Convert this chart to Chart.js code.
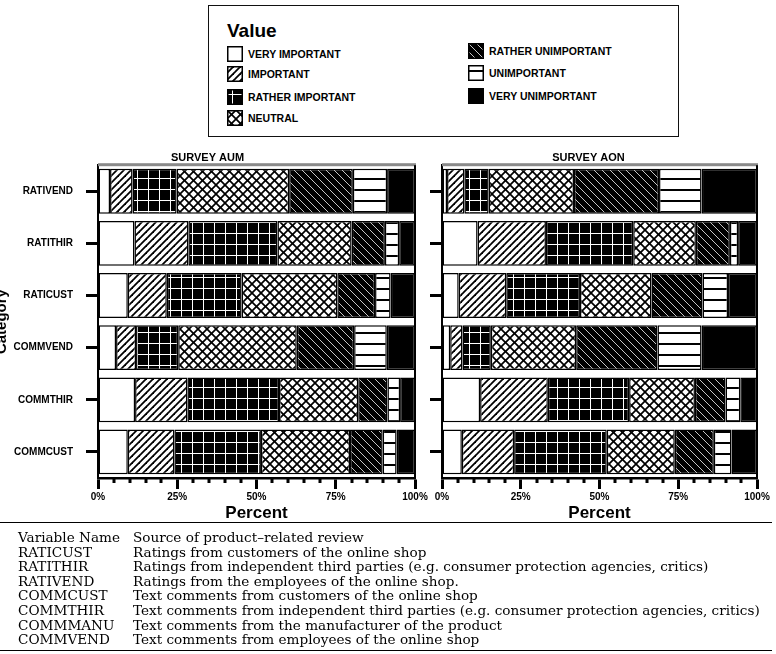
<!DOCTYPE html>
<html>
<head>
<meta charset="utf-8">
<script src="https://cdn.jsdelivr.net/npm/chart.js@4.4.1/dist/chart.umd.min.js"></script>
<style>
  body { margin: 0; background: #fff; width: 776px; height: 654px; position: relative; overflow: hidden; font-family: "Liberation Sans", Arial, sans-serif; }
  canvas { position: absolute; }
  #legend { position: absolute; left: 208px; top: 5px; width: 469px; height: 130px; border: 1.5px solid #111; }
  #legend .title { position: absolute; left: 18px; top: 14px; font-size: 19px; font-weight: bold; line-height: 22px; }
  #legend .item { position: absolute; font-size: 10.5px; font-weight: bold; line-height: 16px; white-space: nowrap; }
  #legend .item canvas { position: absolute; left: 0; top: 0; }
  #legend .item span { position: absolute; left: 21px; top: 0; }
  #table { position: absolute; left: 0; top: 522px; width: 772px; border-top: 1.5px solid #000; border-bottom: 1.5px solid #000; padding: 7px 0 3px; font-family: "DejaVu Serif", serif; font-size: 13.6px; }
  #table .row { position: relative; height: 14.6px; line-height: 14.6px; white-space: nowrap; }
  #table .c1 { position: absolute; left: 18px; }
  #table .c2 { position: absolute; left: 133px; }
</style>
</head>
<body>
<div id="legend"><div class="title">Value</div></div>
<canvas id="aum" width="430" height="384" style="left:0;top:140px"></canvas>
<canvas id="aon" width="356" height="384" style="left:420px;top:140px"></canvas>
<div id="table"></div>
<script>
const categories = ['RATIVEND', 'RATITHIR', 'RATICUST', 'COMMVEND', 'COMMTHIR', 'COMMCUST'];
const levels = ['VERY IMPORTANT', 'IMPORTANT', 'RATHER IMPORTANT', 'NEUTRAL', 'RATHER UNIMPORTANT', 'UNIMPORTANT', 'VERY UNIMPORTANT'];
const xTickValues = [0, 25, 50, 75, 100];

// survey AUM, percent of answers, same order as categories
const aumVeryImportant = [3.8, 11.5, 9.4, 5.7, 11.7, 9.4];
const aumImportant = [7.1, 17.0, 12.3, 6.3, 16.5, 14.7];
const aumRatherImportant = [13.9, 28.1, 23.6, 13.3, 28.9, 27.3];
const aumNeutral = [35.5, 23.4, 30.2, 37.4, 25.0, 28.1];
const aumRatherUnimportant = [20.1, 10.5, 11.9, 18.1, 9.2, 10.3];
const aumUnimportant = [10.8, 4.5, 4.9, 10.3, 4.0, 4.4];
const aumVeryUnimportant = [8.8, 5.0, 7.7, 8.9, 4.7, 5.8];

// survey AON
const aonVeryImportant = [1.6, 11.3, 5.3, 2.6, 12.1, 6.3];
const aonImportant = [5.5, 21.7, 15.1, 3.9, 21.5, 16.6];
const aonRatherImportant = [7.7, 27.7, 23.4, 9.0, 25.8, 29.4];
const aonNeutral = [27.1, 19.9, 22.7, 27.1, 20.9, 21.6];
const aonRatherUnimportant = [27.0, 10.8, 16.2, 25.8, 9.7, 12.4];
const aonUnimportant = [13.5, 2.6, 8.1, 14.0, 4.7, 5.6];
const aonVeryUnimportant = [17.6, 6.0, 9.2, 17.6, 5.3, 8.1];

const variableNames = ['Variable Name', 'RATICUST', 'RATITHIR', 'RATIVEND', 'COMMCUST', 'COMMTHIR', 'COMMMANU', 'COMMVEND'];
const variableSources = [
  'Source of product\u2013related review',
  'Ratings from customers of the online shop',
  'Ratings from independent third parties (e.g. consumer protection agencies, critics)',
  'Ratings from the employees of the online shop.',
  'Text comments from customers of the online shop',
  'Text comments from independent third parties (e.g. consumer protection agencies, critics)',
  'Text comments from the manufacturer of the product',
  'Text comments from employees of the online shop'
];

const aumSeries = [aumVeryImportant, aumImportant, aumRatherImportant, aumNeutral, aumRatherUnimportant, aumUnimportant, aumVeryUnimportant];
const aonSeries = [aonVeryImportant, aonImportant, aonRatherImportant, aonNeutral, aonRatherUnimportant, aonUnimportant, aonVeryUnimportant];

const FONT = '"Liberation Sans", Arial, sans-serif';

// fill patterns
function tile(w, h, bg, draw) {
  const c = document.createElement('canvas');
  c.width = w; c.height = h;
  const g = c.getContext('2d');
  g.fillStyle = bg;
  g.fillRect(0, 0, w, h);
  draw(g);
  return g.createPattern(c, 'repeat');
}
function line(g, x1, y1, x2, y2) {
  g.beginPath(); g.moveTo(x1, y1); g.lineTo(x2, y2); g.stroke();
}

const fills = [
  '#ffffff',
  tile(7, 7, '#fff', g => {
    g.strokeStyle = '#000'; g.lineWidth = 1.8;
    line(g, -1, 8, 8, -1); line(g, -1, 1, 1, -1); line(g, 6, 8, 8, 6);
  }),
  tile(11, 11, '#000', g => {
    g.fillStyle = '#fff';
    g.fillRect(5, 0, 1, 11); g.fillRect(0, 5, 11, 1);
  }),
  tile(9, 9, '#fff', g => {
    g.strokeStyle = '#000'; g.lineWidth = 1.7;
    line(g, -1, -1, 10, 10); line(g, 8, -1, 10, 1); line(g, -1, 8, 1, 10);
    line(g, -1, 10, 10, -1); line(g, -1, 1, 1, -1); line(g, 8, 10, 10, 8);
  }),
  tile(8, 8, '#000', g => {
    g.strokeStyle = '#ddd'; g.lineWidth = 0.9;
    line(g, -1, -1, 9, 9); line(g, 7, -1, 9, 1); line(g, -1, 7, 1, 9);
  }),
  tile(4, 11, '#fff', g => {
    g.fillStyle = '#000'; g.fillRect(0, 5, 4, 2);
  }),
  '#000000'
];

// legend
const legendPos = [[18, 40], [18, 60], [18, 83], [18, 104], [259, 37], [259, 59], [259, 82]];
const legendEl = document.getElementById('legend');
levels.forEach((name, i) => {
  const item = document.createElement('div');
  item.className = 'item';
  item.style.left = legendPos[i][0] + 'px';
  item.style.top = legendPos[i][1] + 'px';
  const sw = document.createElement('canvas');
  sw.width = 16; sw.height = 16;
  const g = sw.getContext('2d');
  g.fillStyle = fills[i]; g.fillRect(0, 0, 16, 16);
  g.strokeStyle = '#000'; g.lineWidth = 1.5; g.strokeRect(0.75, 0.75, 14.5, 14.5);
  const t = document.createElement('span');
  t.textContent = name;
  item.appendChild(sw); item.appendChild(t);
  legendEl.appendChild(item);
});

// table
const tableEl = document.getElementById('table');
variableNames.forEach((n, i) => {
  const r = document.createElement('div');
  r.className = 'row';
  r.innerHTML = '<span class="c1"></span><span class="c2"></span>';
  r.children[0].textContent = n;
  r.children[1].textContent = variableSources[i];
  tableEl.appendChild(r);
});

// frame edges + minor ticks on the percent axis
const framePlugin = {
  id: 'frame',
  afterDraw(chart) {
    const { ctx, chartArea: a } = chart;
    const x = chart.scales.x;
    ctx.save();
    ctx.fillStyle = '#8a8a8a';
    ctx.fillRect(a.left, a.top - 2, a.right - a.left + 1, 3);
    ctx.fillStyle = '#000';
    ctx.fillRect(a.right - 1, a.top, 2, a.bottom - a.top);
    for (let v = 5; v < 100; v += 5) {
      if (v % 25 === 0) continue;
      const px = x.getPixelForValue(v);
      ctx.fillRect(Math.round(px) - 1.5, a.bottom, 3, 5);
    }
    ctx.restore();
  }
};

function makeChart(id, title, series, first) {
  const datasets = levels.map((name, i) => ({
    label: name,
    data: series[i],
    backgroundColor: fills[i],
    borderColor: '#000',
    borderWidth: 1.5,
    borderSkipped: false,
    barPercentage: 0.86,
    categoryPercentage: 1
  }));

  return new Chart(document.getElementById(id), {
    type: 'bar',
    data: { labels: categories, datasets },
    plugins: [framePlugin],
    options: {
      indexAxis: 'y',
      responsive: false,
      animation: false,
      layout: { padding: { left: 0, right: first ? 15 : 19, top: 0, bottom: 0 } },
      plugins: {
        legend: { display: false },
        tooltip: { enabled: false },
        title: {
          display: true,
          text: title,
          color: '#000',
          font: { family: FONT, size: 11, weight: 'bold' },
          padding: { top: 11, bottom: 1 }
        }
      },
      scales: {
        x: {
          stacked: true,
          min: 0,
          max: 100,
          afterBuildTicks(scale) { scale.ticks = xTickValues.map(v => ({ value: v })); },
          afterFit(scale) { scale.height = 46; scale.paddingLeft = 0; scale.paddingRight = 0; },
          ticks: {
            color: '#000',
            font: { family: FONT, size: 10, weight: 'bold' },
            padding: 2,
            maxRotation: 0,
            autoSkip: false,
            callback: v => v + '%'
          },
          grid: { drawOnChartArea: false, tickLength: 11, tickWidth: 3, tickColor: '#000', color: '#000' },
          border: { display: true, color: '#000', width: 2.5 },
          title: {
            display: true,
            text: 'Percent',
            color: '#000',
            font: { family: FONT, size: 17, weight: 'bold' },
            padding: 0
          }
        },
        y: {
          stacked: true,
          afterFit(scale) { scale.width = first ? 98 : 22; scale.paddingTop = 0; scale.paddingBottom = 0; },
          ticks: {
            display: first,
            color: '#000',
            font: { family: FONT, size: 10, weight: 'bold' },
            padding: 13
          },
          grid: { drawOnChartArea: false, offset: false, tickLength: 12, tickWidth: 3, tickColor: '#000', color: '#000' },
          border: { display: true, color: '#000', width: 2 },
          title: {
            display: first,
            text: 'Category',
            color: '#000',
            font: { family: FONT, size: 15, weight: 'bold' },
            padding: { top: -7, bottom: 0 }
          }
        }
      }
    }
  });
}

makeChart('aum', 'SURVEY AUM', aumSeries, true);
makeChart('aon', 'SURVEY AON', aonSeries, false);
</script>
</body>
</html>
